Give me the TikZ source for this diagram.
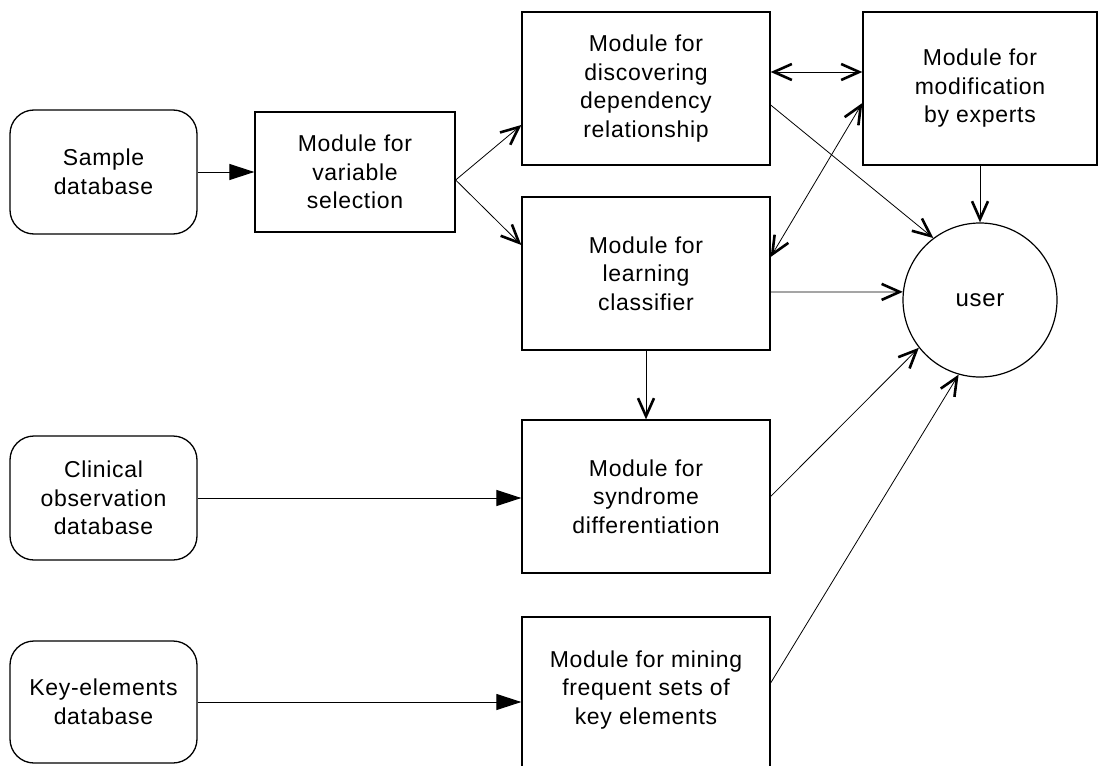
\documentclass[tikz,border=0pt]{standalone}
\usepackage{fontspec}
\setmainfont{Liberation Sans}[LetterSpace=3]
\usetikzlibrary{arrows.meta}
\begin{document}
\begin{tikzpicture}[x=1pt,y=-1pt,
  txt/.style={font=\fontsize{23}{28.5}\selectfont, align=center},
  dbbox/.style={txt, draw, line width=1.3pt, rounded corners=24pt, minimum width=187pt, inner sep=0pt},
  modbox/.style={txt, draw, line width=1.3pt, inner sep=0pt},
  fillarr/.style={line width=1pt, -{Triangle[length=25pt,width=16pt]}},
  openarr/.style={line width=0.8pt, -{Straight Barb[length=18pt,width=16pt,line width=2.6pt]}},
  dblarr/.style={line width=0.8pt, {Straight Barb[length=18pt,width=16pt,line width=2.6pt]}-{Straight Barb[length=18pt,width=16pt,line width=2.6pt]}}
]
\useasboundingbox (0,0) rectangle (1110,765);
% database boxes
\node[dbbox, minimum height=124pt] (samp) at (103.5,172) {Sample\\database};
\node[dbbox, minimum height=124pt] (clin) at (103.5,498) {Clinical\\observation\\database};
\node[dbbox, minimum height=122pt] (key) at (103.5,702) {Key-elements\\database};
% modules
\node[modbox, minimum width=200pt, minimum height=120pt] (varsel) at (355,172) {Module for\\variable\\selection};
\node[modbox, minimum width=248pt, minimum height=153pt] (disc) at (646,88.5) {Module for\\discovering\\dependency\\relationship};
\node[modbox, minimum width=234pt, minimum height=153pt] (modif) at (980,88.5) {Module for\\modification\\by experts};
\node[modbox, minimum width=248pt, minimum height=153pt] (learn) at (646,273.5) {Module for\\learning\\classifier};
\node[modbox, minimum width=248pt, minimum height=153pt] (synd) at (646,496.5) {Module for\\syndrome\\differentiation};
\node[modbox, minimum width=248pt, minimum height=156pt] (mine) at (646,695) {};
\node[txt] (minetxt) at (646,690) {Module for mining\\frequent sets of\\key elements};
\node[draw, circle, line width=1.2pt, minimum size=154pt, inner sep=0pt, font=\fontsize{24}{28}\selectfont] (user) at (980,300) {user};
% connectors
\draw[fillarr] (samp.east) -- (varsel.west);
\draw[fillarr] (clin.east) -- (clin.east -| synd.west);
\draw[fillarr] (key.east) -- (key.east -| mine.west);
\draw[openarr] ([yshift=-8pt]varsel.east) -- ([yshift=-36.5pt]disc.west);
\draw[openarr] ([yshift=-8pt]varsel.east) -- ([yshift=28.5pt]learn.west);
\draw[dblarr] ([yshift=16.5pt]disc.east) -- ([yshift=16.5pt]modif.west);
\draw[dblarr] ([yshift=16.5pt]learn.east) -- ([yshift=-14.5pt]modif.west);
\draw[openarr] ([yshift=-16.5pt]disc.east) -- (user.127);
\draw[openarr] (modif.south) -- (user.north);
\draw[openarr] ([yshift=-18.5pt]learn.east) -- (user.174);
\draw[openarr] (synd.east) -- (user.218);
\draw[openarr] ([yshift=12pt]mine.east) -- (user.254);
\draw[openarr] (learn.south) -- (synd.north);
\end{tikzpicture}
\end{document}
